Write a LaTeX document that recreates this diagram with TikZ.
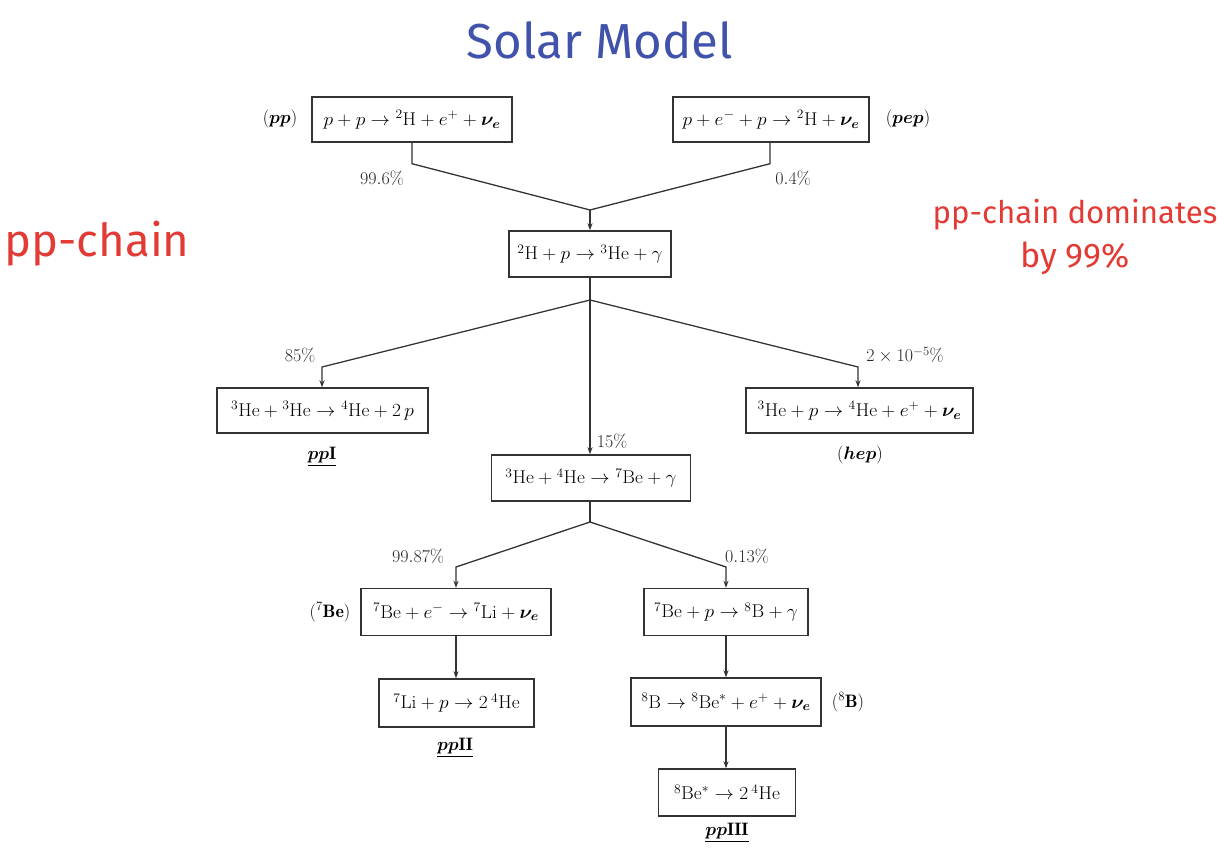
\RequirePackage{fix-cm}
\documentclass[tikz,border=0pt]{standalone}
\usepackage{amsmath,bm}
\usepackage{graphicx}
\usepackage{fontspec}
\newfontfamily\slidefont{Fira Sans}
\usetikzlibrary{arrows.meta}
\definecolor{titleblue}{RGB}{64,82,170}
\definecolor{slidered}{RGB}{226,58,52}
\newcommand{\sxm}[1]{\scalebox{1.05}[1]{$#1$}}
\newcommand{\lbm}[1]{$#1$}
\tikzset{
 rxn/.style={draw=black!80, line width=1.4pt, minimum height=46pt, inner sep=0pt, font=\fontsize{18.5}{21}\selectfont},
 lbl/.style={inner sep=0pt, font=\fontsize{18}{21}\selectfont, text=black!85},
 conn/.style={line width=1.3pt, draw=black!80},
 arr/.style={conn, -{Stealth[length=7pt,width=5pt]}},
}
\begin{document}
\begin{tikzpicture}[x=1pt,y=-1pt]
\path[use as bounding box] (0,0) rectangle (1230,850);
% slide texts
\node[inner sep=0pt] (title) at (600,40) {\resizebox{266pt}{!}{\slidefont\color{titleblue}Solar Model}};
\node[inner sep=0pt] (ppchain) at (97,244) {\resizebox{185pt}{!}{\slidefont\color{slidered}pp-chain}};
\node[inner sep=0pt] (dom1) at (1075,215) {\resizebox{285pt}{!}{\slidefont\color{slidered}pp-chain dominates}};
\node[inner sep=0pt] (dom2) at (1075,258) {\resizebox{110pt}{!}{\slidefont\color{slidered}by 99\%}};
% reaction boxes
\node[rxn, minimum width=200pt, minimum height=45pt] (pp) at (412,119.5) {\sxm{p+p\rightarrow{}^2\mathrm{H}+e^++\bm{\nu_e}}};
\node[rxn, minimum width=196pt, minimum height=45pt] (pep) at (771,119.5) {\sxm{p+e^-+p\rightarrow{}^2\mathrm{H}+\bm{\nu_e}}};
\node[rxn, minimum width=162pt] (h2) at (590,254) {\sxm{^2\mathrm{H}+p\rightarrow{}^3\mathrm{He}+\gamma}};
\node[rxn, minimum width=211pt, minimum height=45pt] (ppI) at (322.5,410.5) {\sxm{^3\mathrm{He}+{}^3\mathrm{He}\rightarrow{}^4\mathrm{He}+2\,p}};
\node[rxn, minimum width=227pt, minimum height=45pt] (hep) at (859.5,410.5) {\sxm{^3\mathrm{He}+p\rightarrow{}^4\mathrm{He}+e^++\bm{\nu_e}}};
\node[rxn, minimum width=199pt] (be7) at (591,478) {\sxm{^3\mathrm{He}+{}^4\mathrm{He}\rightarrow{}^7\mathrm{Be}+\gamma}};
\node[rxn, minimum width=190pt, minimum height=47pt] (becap) at (456,612) {\sxm{^7\mathrm{Be}+e^-\rightarrow{}^7\mathrm{Li}+\bm{\nu_e}}};
\node[rxn, minimum width=164pt, minimum height=47pt] (b8) at (726,612) {\sxm{^7\mathrm{Be}+p\rightarrow{}^8\mathrm{B}+\gamma}};
\node[rxn, minimum width=155pt, minimum height=48pt] (li) at (456.5,703) {\sxm{^7\mathrm{Li}+p\rightarrow2\,{}^4\mathrm{He}}};
\node[rxn, minimum width=190pt, minimum height=48pt] (b8d) at (726,702) {\sxm{^8\mathrm{B}\rightarrow{}^8\mathrm{Be}^*+e^++\bm{\nu_e}}};
\node[rxn, minimum width=137pt, minimum height=47pt] (be8) at (727,792.5) {\sxm{^8\mathrm{Be}^*\rightarrow2\,{}^4\mathrm{He}}};
% side labels
\node[lbl, text=black] (lpp) at (280,119) {\lbm{(\bm{pp})}};
\node[lbl, text=black] (lpep) at (908,119) {\lbm{(\bm{pep})}};
\node[lbl, text=black] (lppI) at (322,457) {\lbm{\underline{\bm{pp}\mathbf{I}}}};
\node[lbl, text=black] (lhep) at (860,455) {\lbm{(\bm{hep})}};
\node[lbl, text=black] (lbe7) at (330,612) {\lbm{(^7\mathbf{Be})}};
\node[lbl, text=black] (lb8) at (848,702) {\lbm{(^8\mathbf{B})}};
\node[lbl, text=black] (lppII) at (455,748) {\lbm{\underline{\bm{pp}\mathbf{II}}}};
\node[lbl, text=black] (lppIII) at (727,833) {\lbm{\underline{\bm{pp}\mathbf{III}}}};
% percentages
\node[lbl] (p996) at (382,178) {\lbm{99.6\%}};
\node[lbl] (p04) at (793,178) {\lbm{0.4\%}};
\node[lbl] (p85) at (300,355) {\lbm{85\%}};
\node[lbl] (phep) at (905,355) {\lbm{2\times10^{-5}\%}};
\node[lbl] (p15) at (612,441) {\lbm{15\%}};
\node[lbl] (p9987) at (418,556) {\lbm{99.87\%}};
\node[lbl] (p013) at (747,556) {\lbm{0.13\%}};
% junctions
\coordinate (j1) at (590,210);
\coordinate (j2) at (590,300);
\coordinate (j3) at (590,522);
% connectors
\draw[conn] (pp.south) -- ++(0,21) -- (j1);
\draw[conn] (pep.south -| 770,0) -- ++(0,21) -- (j1);
\draw[arr] (j1) -- (h2.north);
\draw[conn] (h2.south) -- (j2);
\draw[arr] (j2) -- (322,367) -- (ppI.north -| 322,0);
\draw[arr] (j2) -- (858,367) -- (hep.north -| 858,0);
\draw[arr] (j2) -- (be7.north -| 590,0);
\draw[conn] (be7.south -| 590,0) -- (j3);
\draw[arr] (j3) -- (456,567) -- (becap.north);
\draw[arr] (j3) -- (726,567) -- (b8.north);
\draw[arr] (becap.south) -- (li.north -| becap.south);
\draw[arr] (b8.south) -- (b8d.north);
\draw[arr] (b8d.south) -- (be8.north -| b8d.south);
\end{tikzpicture}
\end{document}
